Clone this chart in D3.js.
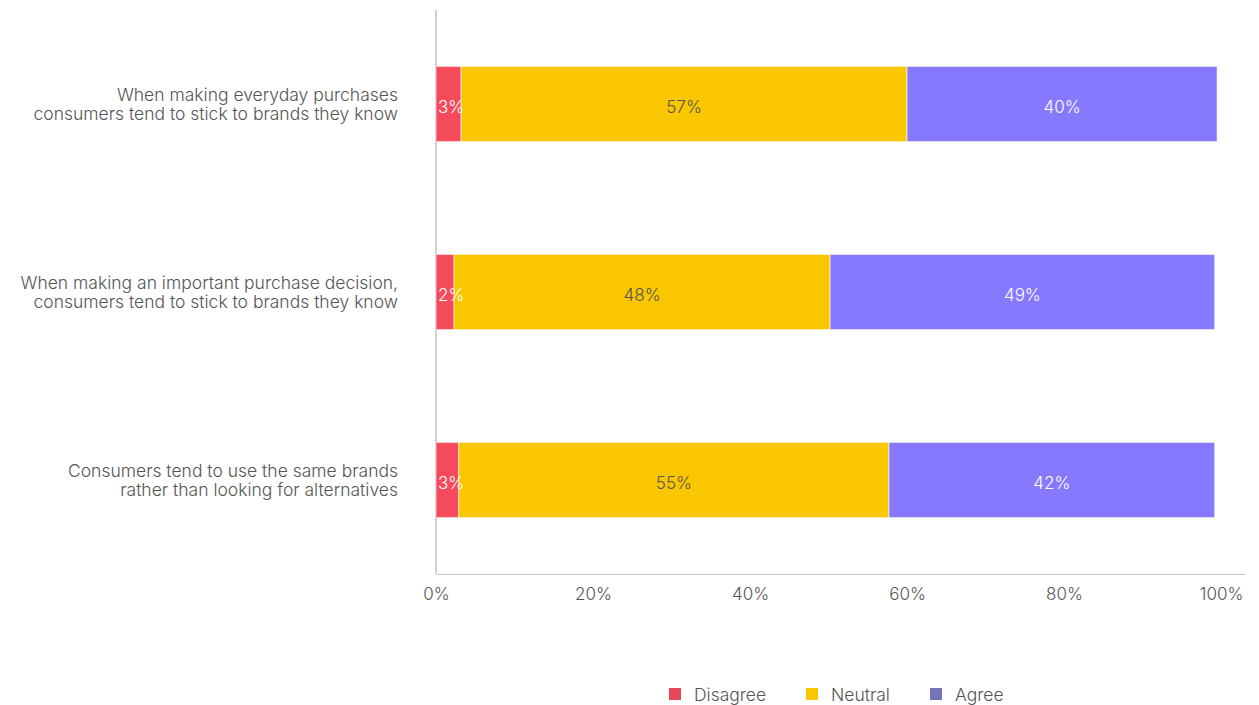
<!DOCTYPE html>
<html>
<head>
<meta charset="utf-8">
<script src="https://cdn.jsdelivr.net/npm/d3@7"></script>
<style>
  html, body { margin: 0; padding: 0; background: #fff; }
  svg { display: block; font-family: Inter, "Open Sans", sans-serif; font-weight: 300; }
</style>
</head>
<body>
<svg id="chart" width="1259" height="705"></svg>
<script>
// Statements (each label split into two lines)
const categories = [
  ["When making everyday purchases", "consumers tend to stick to brands they know"],
  ["When making an important purchase decision,", "consumers tend to stick to brands they know"],
  ["Consumers tend to use the same brands", "rather than looking for alternatives"]
];
const seriesNames = ["Disagree", "Neutral", "Agree"];
const disagree = [3.2, 2.3, 2.9];
const neutral  = [56.8, 47.9, 54.8];
const agree    = [39.5, 49.0, 41.5];
const tickValues = [0, 20, 40, 60, 80, 100];

const barColors    = ["#f44a5b", "#fac600", "#8679fe"];
const legendColors = ["#e9485a", "#f9c600", "#7574b9"];
const labelColors  = ["#ffffff", "#555555", "#ffffff"];

const svg = d3.select("#chart");
const plotLeft = 436, plotRight = 1245, plotTop = 10, plotBottom = 574;

const x = d3.scaleLinear().domain([0, 100]).range([plotLeft, 1221]);
const y = d3.scaleBand().domain(d3.range(categories.length)).range([plotTop, plotBottom]).paddingInner(0.6).paddingOuter(0.3);

const series = [disagree, neutral, agree];
const rows = categories.map((c, i) => {
  let acc = 0;
  return series.map((s, k) => {
    const seg = { row: i, k, v: s[i], x0: acc, x1: acc + s[i] };
    acc += s[i];
    return seg;
  });
});

// axis lines
svg.append("line").attr("x1", plotLeft).attr("x2", plotLeft).attr("y1", plotTop).attr("y2", plotBottom)
  .attr("stroke", "#d0d0d0").attr("stroke-width", 2);
svg.append("line").attr("x1", plotLeft).attr("x2", plotRight).attr("y1", plotBottom + 0.5).attr("y2", plotBottom + 0.5)
  .attr("stroke", "#c8c8c8").attr("stroke-width", 1);

// x tick labels
const xAxis = d3.axisBottom(x).tickValues(tickValues).tickFormat(d => d + "%").tickSize(0).tickPadding(14);
const gx = svg.append("g").attr("transform", `translate(0,${plotBottom})`).call(xAxis);
gx.select(".domain").remove();
gx.selectAll("text").attr("fill", "#555").attr("font-size", 17).attr("font-family", "Inter, sans-serif").attr("font-weight", 300);

// bars
const segs = rows.flat();
svg.append("g").selectAll("rect").data(segs).join("rect")
  .attr("x", d => x(d.x0))
  .attr("width", d => x(d.x1) - x(d.x0))
  .attr("y", d => y(d.row))
  .attr("height", y.bandwidth())
  .attr("fill", d => barColors[d.k])
  .attr("stroke", "rgba(255,255,255,0.6)")
  .attr("stroke-width", 1);

// value labels
svg.append("g").selectAll("text").data(segs).join("text")
  .attr("x", d => d.k === 0 ? x(d.x0) + 2 : (x(d.x0) + x(d.x1)) / 2)
  .attr("y", d => y(d.row) + y.bandwidth() / 2 + 3)
  .attr("dy", "0.35em")
  .attr("text-anchor", d => d.k === 0 ? "start" : "middle")
  .attr("fill", d => labelColors[d.k])
  .attr("font-size", 17)
  .text(d => Math.round(d.v) + "%");

// category labels
const cat = svg.append("g").selectAll("text").data(categories).join("text")
  .attr("x", 398)
  .attr("y", (d, i) => y(i) + y.bandwidth() / 2 + 1)
  .attr("text-anchor", "end")
  .attr("fill", "#555")
  .attr("font-size", 17.5);
cat.selectAll("tspan").data(d => d).join("tspan")
  .attr("x", 398)
  .attr("dy", (d, j) => j === 0 ? "-0.25em" : "1.1em")
  .text(d => d);

// legend
const legendX = [669, 806, 930];
const lg = svg.append("g").selectAll("g").data(seriesNames).join("g")
  .attr("transform", (d, i) => `translate(${legendX[i]},688)`);
lg.append("rect").attr("width", 12).attr("height", 12).attr("fill", (d, i) => legendColors[i]);
lg.append("text").attr("x", 25).attr("y", 7).attr("dy", "0.35em")
  .attr("fill", "#555").attr("font-size", 17.5).text(d => d);
</script>
</body>
</html>
